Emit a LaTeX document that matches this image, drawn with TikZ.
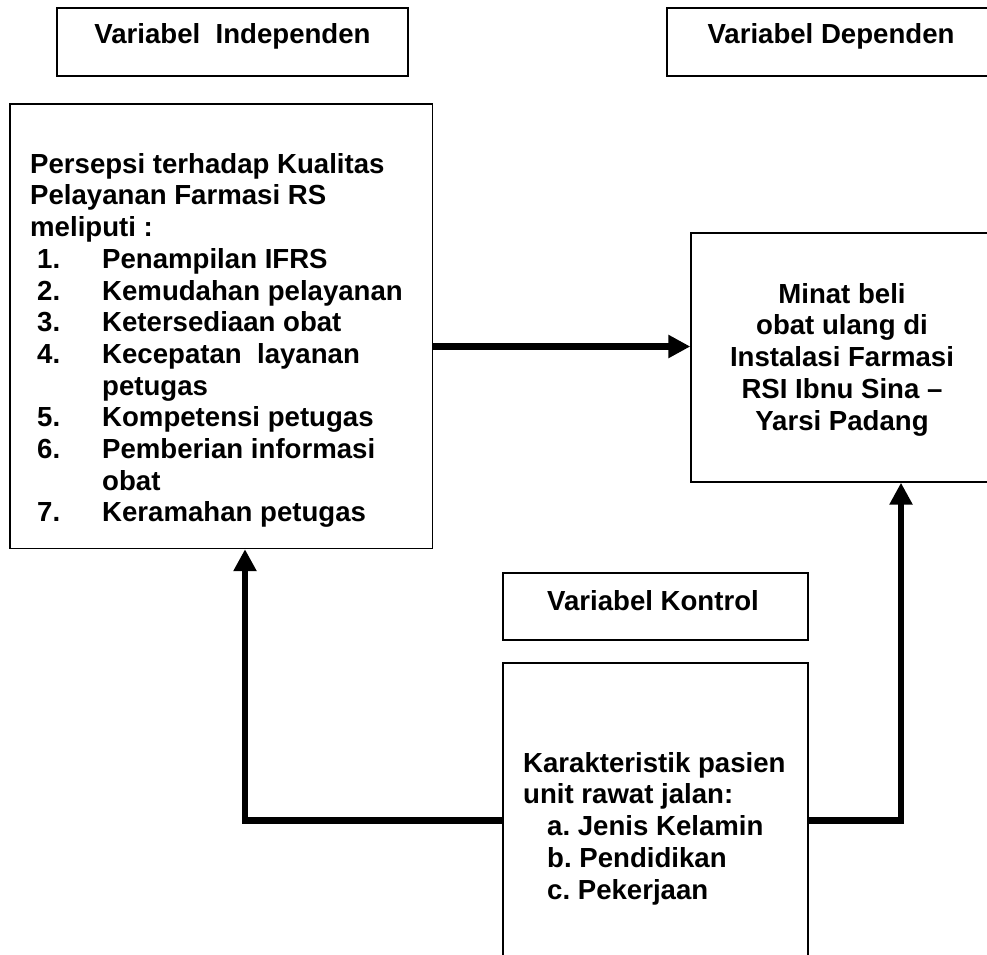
\documentclass[tikz,border=0pt]{standalone}
\usepackage{fontspec}
\setmainfont{Liberation Sans}
\usetikzlibrary{arrows.meta}
\frenchspacing
\begin{document}
\begin{tikzpicture}[x=1pt,y=-1pt,
  box/.style={draw, line width=1.4pt, inner sep=0pt},
  txt/.style={inner sep=0pt, font=\fontsize{27.6}{31.7}\selectfont\bfseries},
  conn/.style={line width=6.5pt, -{Triangle[length=22pt,width=22pt]}}]
\useasboundingbox (0,0) rectangle (987,954);

% heading boxes
\node[box, minimum width=351pt, minimum height=68pt] (tind) at (232.5,42) {};
\node[box, minimum width=328pt, minimum height=68pt] (tdep) at (831,42) {};
\node[box, minimum width=305pt, minimum height=67pt] (tkon) at (655.5,606.5) {};
\node[txt, anchor=base] (tindtext) at (232.5,43) {Variabel\ \ Independen};
\node[txt, anchor=base] (tdeptext) at (831,43) {Variabel Dependen};
\node[txt, anchor=base] (tkontext) at (653,610) {Variabel Kontrol};

% main boxes
\node[box, minimum width=422.5pt, minimum height=444.5pt] (indep) at (221.25,326.25) {};
\node[box, minimum width=302pt, minimum height=249pt] (minat) at (842,357.5) {};
\node[box, minimum width=305pt, minimum height=337pt] (kar) at (655.5,831.5) {};

\node[txt, anchor=north west, align=left] (indeptext) at (30,153) {%
Persepsi terhadap Kualitas\\
Pelayanan Farmasi RS\\
meliputi :\\
\hspace*{7pt}\makebox[65pt][l]{1.}Penampilan IFRS\\
\hspace*{7pt}\makebox[65pt][l]{2.}Kemudahan pelayanan\\
\hspace*{7pt}\makebox[65pt][l]{3.}Ketersediaan obat\\
\hspace*{7pt}\makebox[65pt][l]{4.}Kecepatan\ \ layanan\\
\hspace*{72pt}petugas\\
\hspace*{7pt}\makebox[65pt][l]{5.}Kompetensi petugas\\
\hspace*{7pt}\makebox[65pt][l]{6.}Pemberian informasi\\
\hspace*{72pt}obat\\
\hspace*{7pt}\makebox[65pt][l]{7.}Keramahan petugas};

\node[txt, anchor=north, align=center] (minattext) at (842,283) {%
Minat beli\\
obat ulang di\\
Instalasi Farmasi\\
RSI Ibnu Sina --\\
Yarsi Padang};

\node[txt, anchor=north west, align=left] (kartext) at (523,752) {%
Karakteristik pasien\\
unit rawat jalan:\\
\hspace*{24pt}a. Jenis Kelamin\\
\hspace*{24pt}b. Pendidikan\\
\hspace*{24pt}c. Pekerjaan};

% connectors
\coordinate (hy) at (0,346.5);
\coordinate (ly) at (0,820.5);
\coordinate (lx) at (245,0);
\coordinate (rx) at (901,0);
\draw[conn] (indep.east |- hy) -- (minat.west |- hy);
\draw[conn] (kar.west |- ly) -| (indep.south -| lx);
\draw[conn] (kar.east |- ly) -| (minat.south -| rx);
\end{tikzpicture}
\end{document}
